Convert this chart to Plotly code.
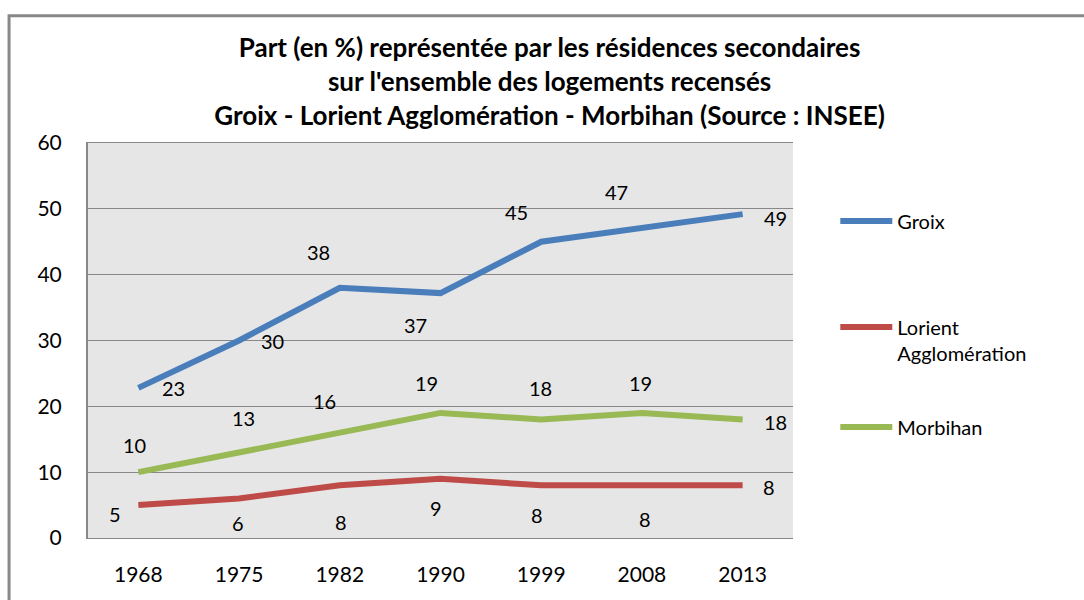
import plotly.graph_objects as go

years = ["1968", "1975", "1982", "1990", "1999", "2008", "2013"]
groix = [22.8, 30, 38, 37.2, 45, 47, 49.2]
lorient = [5, 6, 8, 9, 8, 8, 8]
morbihan = [10, 13, 16, 19, 18, 19, 18]
groix_lbl = [23, 30, 38, 37, 45, 47, 49]
lorient_lbl = [5, 6, 8, 9, 8, 8, 8]
morbihan_lbl = [10, 13, 16, 19, 18, 19, 18]

series = [
    ("Groix", groix, groix_lbl, "#4a7ebb", "legend"),
    ("Lorient<br>Agglomération", lorient, lorient_lbl, "#be4b48", "legend2"),
    ("Morbihan", morbihan, morbihan_lbl, "#98b954", "legend3"),
]

# label offsets (px) per point, per series
shifts = [
    [(35, 0), (33, 0), (-21, 36), (-25, -32), (-25, 30), (-25, 37), (33, -4)],
    [(-23, -9), (-1, -24), (1, -37), (-5, -29), (-4, -30), (3, -34), (26, -2)],
    [(-4, 27), (4, 34), (-15, 32), (-14, 30), (-1, 32), (-1, 30), (33, -2)],
]

FONT = "Lato, Open Sans, sans-serif"

fig = go.Figure()
annotations = []
for i, (name, vals, lbls, color, lg) in enumerate(series):
    fig.add_trace(go.Scatter(
        x=years, y=vals, name=name, mode="lines",
        line=dict(color=color, width=6),
        legend=lg, showlegend=True,
    ))
    for j, (v, lb) in enumerate(zip(vals, lbls)):
        dx, dy = shifts[i][j]
        annotations.append(dict(
            x=j, y=v, xref="x", yref="y", text=str(lb), showarrow=False,
            xshift=dx, yshift=dy,
            font=dict(family=FONT, size=20, color="#000"),
        ))

leg_common = dict(
    x=1.06, xanchor="left", yanchor="middle",
    itemwidth=52,
    font=dict(family=FONT, size=20, color="#000"),
    bgcolor="rgba(0,0,0,0)",
    valign="top",
)

fig.update_layout(
    width=1084, height=600,
    showlegend=True,
    margin=dict(l=88, r=291, t=143, b=62),
    paper_bgcolor="white",
    plot_bgcolor="#e6e6e6",
    title=dict(
        text="Part (en %) représentée par les résidences secondaires<br>"
             "sur l'ensemble des logements recensés<br>"
             "Groix - Lorient Agglomération - Morbihan (Source : INSEE)",
        x=0.507, xanchor="center", y=0.905, yanchor="top", yref="container",
        font=dict(family=FONT, size=26, color="#000", weight="bold"),
    ),
    xaxis=dict(
        type="category", range=[-0.5, 6.5],
        showgrid=False, zeroline=False,
        showline=True, mirror=True, linecolor="#888888", linewidth=1.3,
        ticks="", ticklabelstandoff=18,
        tickfont=dict(family=FONT, size=21, color="#000"),
    ),
    yaxis=dict(
        range=[0, 60], dtick=10,
        showgrid=True, gridcolor="#888888", gridwidth=1.3,
        showline=True, linecolor="#888888", linewidth=2,
        zeroline=True, zerolinecolor="#888888", zerolinewidth=1.5,
        ticks="", ticklabelstandoff=20,
        tickfont=dict(family=FONT, size=21, color="#000"),
    ),
    legend=dict(leg_common, y=0.8025),
    legend2=dict(leg_common, y=0.501),
    legend3=dict(leg_common, y=0.281),
    annotations=annotations,
    shapes=[dict(
        type="rect", xref="paper", yref="paper",
        x0=-0.112, x1=1.5, y0=-0.2, y1=1.322,
        line=dict(color="#888888", width=3), fillcolor="rgba(0,0,0,0)",
        layer="below",
    )],
)

fig.write_html("out.html", config={"displayModeBar": False},
               post_script="document.body.style.margin='0';")
